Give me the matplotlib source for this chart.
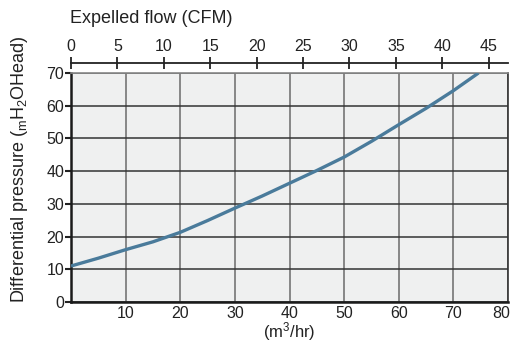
import matplotlib.pyplot as plt
from matplotlib.transforms import ScaledTranslation

plt.rcParams['font.family'] = ['Liberation Sans', 'DejaVu Sans']
plt.rcParams['mathtext.fontset'] = 'custom'
plt.rcParams['mathtext.rm'] = 'Liberation Sans'
plt.rcParams['mathtext.it'] = 'Liberation Sans:italic'

# flow in m3/hr and differential pressure (m H2O head)
flow_m3hr = [0, 5, 10, 15, 20, 25, 30, 35, 40, 45, 50, 55, 60, 65, 70, 74.6]
pressure = [11, 13.4, 16, 18.4, 21.3, 24.9, 28.7, 32.4, 36.3, 40.2, 44.3, 49.1, 54.2, 59.2, 64.6, 70]

x_ticks = [10, 20, 30, 40, 50, 60, 70, 80]
y_ticks = [0, 10, 20, 30, 40, 50, 60, 70]
cfm_ticks = [0, 5, 10, 15, 20, 25, 30, 35, 40, 45]
M3HR_PER_CFM = 1.699

fig = plt.figure(figsize=(5.15, 3.43), dpi=100)
ax = fig.add_axes([0.1379, 0.1195, 0.8485, 0.6677])
ax.set_facecolor('#eff0f0')

ax.plot(flow_m3hr, pressure, color='#4a7b9b', lw=2.4, solid_capstyle='butt', zorder=3)

ax.set_xlim(0, 80)
ax.set_ylim(0, 70)
ax.set_xticks(x_ticks)
ax.set_yticks(y_ticks)
ax.xaxis.grid(True, color='#6a6a6a', lw=1.1)
ax.yaxis.grid(True, color='#333333', lw=1.1)
ax.set_axisbelow(True)

ax.tick_params(axis='x', length=0, pad=3, labelsize=11.5, colors='#222222')
ax.tick_params(axis='y', length=4, width=1.5, pad=1, labelsize=11.5, colors='#222222')
for s in ['left', 'bottom']:
    ax.spines[s].set_linewidth(1.8)
    ax.spines[s].set_color('#1a1a1a')
ax.spines['right'].set_linewidth(1.2)
ax.spines['right'].set_color('#333333')
ax.spines['top'].set_linewidth(1.2)
ax.spines['top'].set_color('#888888')

# nudge the last bottom label so it stays inside the picture
last = ax.get_xticklabels()[-1]
last.set_transform(last.get_transform() + ScaledTranslation(-5 / 72, 0, fig.dpi_scale_trans))

ax.set_xlabel('(m$^3$/hr)', fontsize=12, labelpad=-1, color='#222222')
ax.set_ylabel('Differential pressure ($_{\\mathrm{m}}$H$_2$OHead)', fontsize=13,
              color='#222222')
ax.yaxis.set_label_coords(-0.095, 0.58)

# top axis in CFM, offset above the plot
sec = ax.secondary_xaxis(1.045, functions=(lambda v: v / M3HR_PER_CFM,
                                            lambda v: v * M3HR_PER_CFM))
sec.set_xticks(cfm_ticks)
sec.tick_params(direction='inout', length=8, width=1.3, pad=2, labelsize=11.5,
                colors='#222222')
sec.spines['top'].set_linewidth(1.3)
sec.spines['top'].set_color('#222222')

fig.text(0.136, 0.945, 'Expelled flow (CFM)', fontsize=13, color='#222222',
         ha='left', va='center')

fig.savefig('out.png', dpi=100)
